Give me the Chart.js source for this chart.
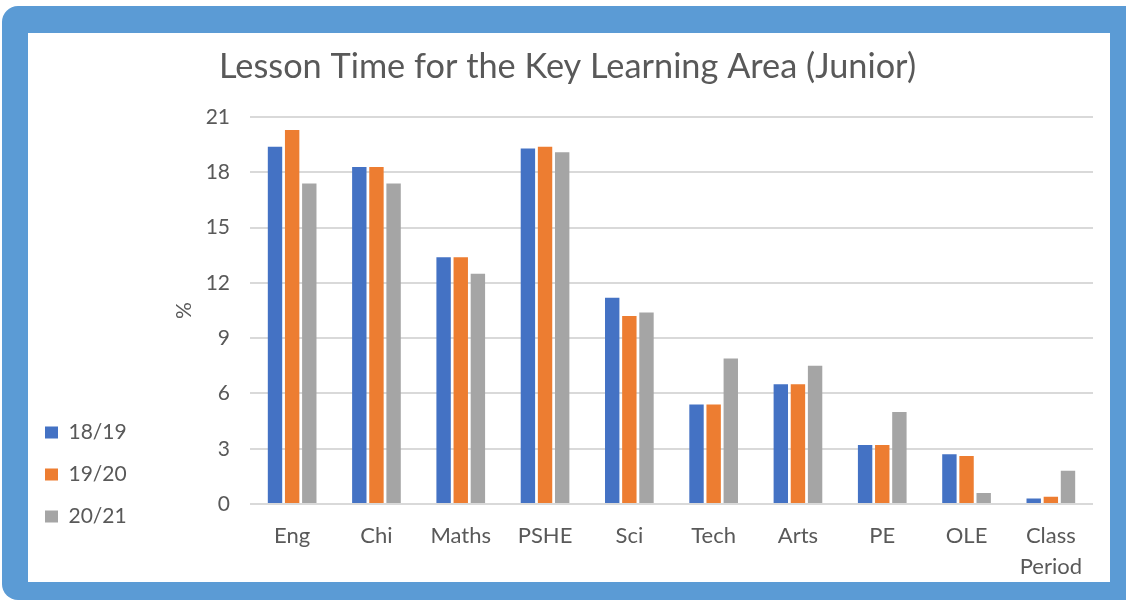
<!DOCTYPE html>
<html>
<head>
<meta charset="utf-8">
<script src="https://cdn.jsdelivr.net/npm/chart.js@4/dist/chart.umd.min.js"></script>
<style>
  html, body { margin: 0; padding: 0; background: #fff; }
  body { width: 1126px; height: 602px; position: relative; overflow: hidden; }
  #frame { position: absolute; left: 2px; top: 6px; width: 1140px; height: 594px;
           background: #5b9bd5; border-radius: 16px; }
  #panel { position: absolute; left: 28px; top: 33px; width: 1082px; height: 549px; background: #fff; }
  canvas { display: block; }
</style>
</head>
<body>
<div id="frame"></div>
<div id="panel"><canvas id="lessonChart" width="1082" height="549"></canvas></div>
<script>
const categories = ['Eng', 'Chi', 'Maths', 'PSHE', 'Sci', 'Tech', 'Arts', 'PE', 'OLE', ['Class', 'Period']];
const year1819 = [19.4, 18.3, 13.4, 19.3, 11.2, 5.4, 6.5, 3.2, 2.7, 0.3];
const year1920 = [20.3, 18.3, 13.4, 19.4, 10.2, 5.4, 6.5, 3.2, 2.6, 0.4];
const year2021 = [17.4, 17.4, 12.5, 19.1, 10.4, 7.9, 7.5, 5.0, 0.6, 1.8];
const seriesLabels = ['18/19', '19/20', '20/21'];
const seriesColors = ['#4472c4', '#ed7d31', '#a5a5a5'];

const textColor = '#595959';
const fontFamily = 'Lato, "Open Sans", sans-serif';

// the Excel-style legend sits low on the left and the title is centred on the whole panel
const nudgeBoxes = {
  id: 'nudgeBoxes',
  afterLayout(chart) {
    const legend = chart.legend;
    legend.left -= 4;
    legend.right -= 4;
    legend.bottom -= 33;
    legend.height -= 33;
    const title = chart.titleBlock;
    title.left += 7;
    title.right += 7;
  }
};

const config = {
  type: 'bar',
  data: {
    labels: categories,
    datasets: [year1819, year1920, year2021].map((values, i) => ({
      label: seriesLabels[i],
      data: values,
      backgroundColor: seriesColors[i],
      categoryPercentage: 0.61,
      barPercentage: 0.84
    }))
  },
  options: {
    responsive: false,
    animation: false,
    layout: { padding: { left: 0, right: 17, top: 10, bottom: 1 } },
    plugins: {
      title: {
        display: true,
        text: 'Lesson Time for the Key Learning Area (Junior)',
        color: textColor,
        font: { family: fontFamily, size: 34.3, weight: 'normal' },
        padding: { top: 3, bottom: 30 }
      },
      legend: {
        position: 'left',
        align: 'end',
        labels: {
          color: textColor,
          font: { family: fontFamily, size: 21 },
          boxWidth: 13,
          boxHeight: 12,
          padding: 21
        }
      },
      tooltip: { enabled: false }
    },
    scales: {
      x: {
        grid: { display: false, drawTicks: false },
        border: { display: false },
        ticks: {
          color: textColor,
          font: { family: fontFamily, size: 22, lineHeight: 1.4 },
          padding: 17,
          maxRotation: 0
        },
        afterFit: (scale) => { scale.height = 77; }
      },
      y: {
        min: 0,
        max: 21,
        grid: { color: '#d9d9d9', lineWidth: 2, drawTicks: false },
        border: { display: false },
        ticks: {
          stepSize: 3,
          color: textColor,
          font: { family: fontFamily, size: 21 },
          padding: 20
        },
        title: {
          display: true,
          text: '%',
          color: textColor,
          font: { family: fontFamily, size: 21 },
          padding: { top: 31, bottom: 0 }
        },
        afterFit: (scale) => {
          if (scale.chart.legend) scale.width = 222 - scale.chart.legend.width;
        }
      }
    }
  },
  plugins: [nudgeBoxes]
};

new Chart(document.getElementById('lessonChart'), config);
</script>
</body>
</html>
